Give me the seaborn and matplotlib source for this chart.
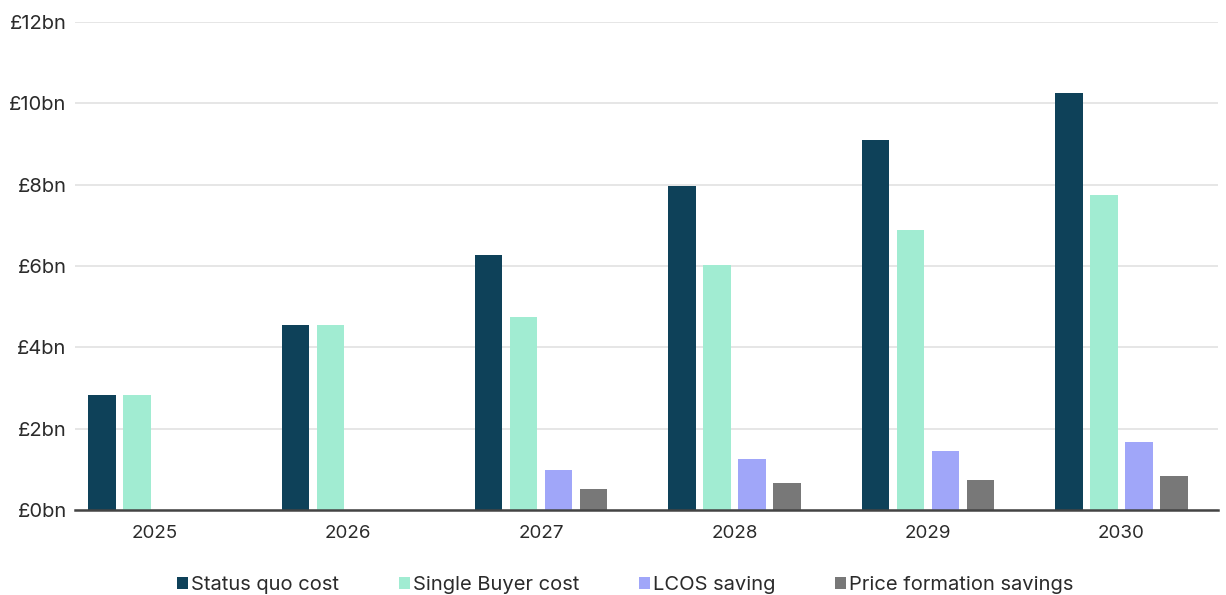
import matplotlib
matplotlib.use("Agg")
import matplotlib.pyplot as plt
from matplotlib.patches import Patch
import seaborn as sns
import pandas as pd

# Annual cost comparison, £bn
years = ["2025", "2026", "2027", "2028", "2029", "2030"]
status_quo_cost = [2.83, 4.55, 6.26, 7.97, 9.10, 10.25]
single_buyer_cost = [2.83, 4.55, 4.74, 6.02, 6.88, 7.75]
lcos_saving = [0.0, 0.0, 0.98, 1.25, 1.45, 1.66]
price_formation_savings = [0.0, 0.0, 0.52, 0.66, 0.74, 0.83]

series_names = ["Status quo cost", "Single Buyer cost", "LCOS saving",
                "Price formation savings"]
series_values = [status_quo_cost, single_buyer_cost, lcos_saving,
                 price_formation_savings]
colors = ["#0e4159", "#a1ecd2", "#a0a6f9", "#787878"]
y_ticks = [0, 2, 4, 6, 8, 10, 12]

rows = []
for name, vals in zip(series_names, series_values):
    for yr, v in zip(years, vals):
        rows.append({"Year": yr, "Series": name, "Value": v})
df = pd.DataFrame(rows)

sns.set_theme(style="white")
plt.rcParams["font.family"] = ["Inter", "DejaVu Sans"]
text_color = "#2b2b2b"

fig = plt.figure(figsize=(12.26, 5.95), dpi=100)
ax = fig.add_axes([0.0612, 0.1429, 0.9323, 0.8201])

sns.barplot(data=df, x="Year", y="Value", hue="Series", order=years,
            hue_order=series_names, palette=colors, width=0.724, gap=0.215,
            saturation=1, errorbar=None, legend=False, linewidth=0, ax=ax)

ax.set_ylim(0, 12)
ax.set_xlim(-0.411, 5.5)
ax.set_yticks(y_ticks)
ax.set_yticklabels([f"£{t}bn" for t in y_ticks])
ax.set_xlabel("")
ax.set_ylabel("")
ax.yaxis.grid(True, color="#e2e2e2", linewidth=1.2)
ax.set_axisbelow(True)
for side in ["top", "right", "left"]:
    ax.spines[side].set_visible(False)
ax.spines["bottom"].set_color("#444444")
ax.spines["bottom"].set_linewidth(1.8)
ax.spines["bottom"].set_zorder(5)
ax.tick_params(axis="y", length=0, pad=6, labelsize=14.5, labelcolor=text_color)
ax.tick_params(axis="x", length=0, pad=11, labelsize=13.5, labelcolor=text_color)

handles = [Patch(facecolor=c, edgecolor="none") for c in colors]
fig.legend(handles, series_names, loc="center", bbox_to_anchor=(0.51, 0.017),
           ncol=4, frameon=False, fontsize=14.5, labelcolor=text_color,
           handlelength=0.55, handleheight=0.55, handletextpad=0.15,
           columnspacing=2.95)

fig.savefig("out.png", dpi=100)
